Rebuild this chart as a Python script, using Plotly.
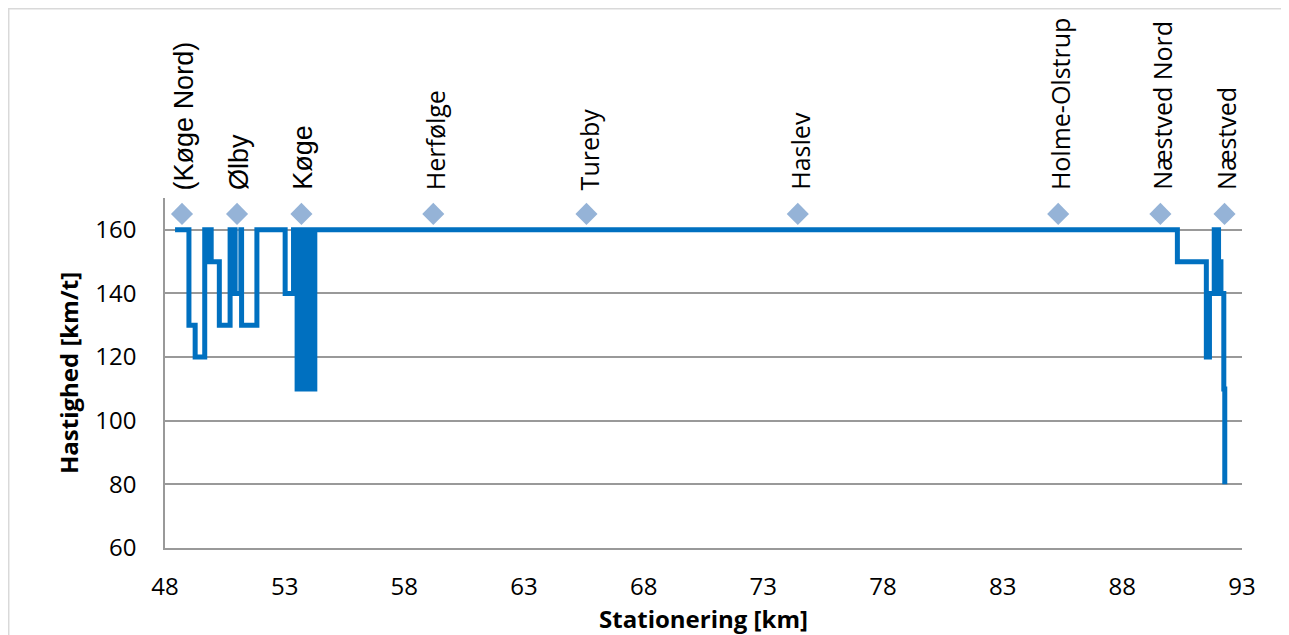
import plotly.graph_objects as go

# Speed profile (step function: speed holds from km[i] to km[i+1])
km = [48.42, 49.00, 49.26, 49.66, 49.78, 49.80, 49.93, 50.27, 50.72, 50.84, 50.86, 50.93,
      51.17, 51.20, 51.84, 53.02, 53.37, 53.52, 53.60, 53.66, 53.74, 53.80, 53.88, 53.94,
      54.02, 54.08, 54.16, 54.20, 54.26, 90.30, 91.51, 91.64, 91.84, 91.92, 91.96, 92.02,
      92.12, 92.24, 92.28]
speed = [160, 130, 120, 160, 150, 160, 150, 130, 160, 140, 160, 140,
         160, 130, 160, 140, 160, 110, 160, 110, 160, 110, 160, 110,
         160, 110, 160, 110, 160, 150, 120, 140, 160, 140, 160, 150,
         140, 110, 80]

stations = ["(Køge Nord)", "Ølby", "Køge", "Herfølge", "Tureby", "Haslev",
            "Holme-Olstrup", "Næstved Nord", "Næstved"]
station_km = [48.71, 51.01, 53.70, 59.21, 65.61, 74.44, 85.32, 89.59, 92.27]
station_marker_speed = [165] * len(stations)
station_fonts = ["Liberation Sans", "Liberation Sans", "Liberation Sans", "Open Sans",
                 "Open Sans", "Open Sans", "Open Sans", "Open Sans", "Open Sans"]

x_ticks = [48, 53, 58, 63, 68, 73, 78, 83, 88, 93]
y_ticks = [60, 80, 100, 120, 140, 160]

fig = go.Figure()
fig.add_trace(go.Scatter(
    x=km, y=speed, mode="lines", line=dict(color="#0070C0", width=5, shape="hv"),
    hoverinfo="skip", showlegend=False))
fig.add_trace(go.Scatter(
    x=station_km, y=station_marker_speed, mode="markers",
    marker=dict(symbol="diamond", size=17, color="#95B3D7"),
    hoverinfo="skip", showlegend=False, cliponaxis=False))

for name, xk, yv, fnt in zip(stations, station_km, station_marker_speed, station_fonts):
    fig.add_annotation(x=xk, y=yv, text=name, textangle=-90, showarrow=False,
                       xanchor="center", yanchor="bottom", yshift=22, xshift=2,
                       font=dict(family=fnt, size=25 if fnt == "Open Sans" else 27, color="black"))

# outer chart border (top and left visible)
fig.add_shape(type="rect", xref="paper", yref="paper", x0=-0.1451, x1=1.3, y0=-0.5, y1=1.5407,
              line=dict(color="#D9D9D9", width=1.5), fillcolor="rgba(0,0,0,0)", layer="below")

fig.update_layout(
    width=1281, height=627,
    margin=dict(l=157, r=47, t=190, b=87),
    paper_bgcolor="white", plot_bgcolor="white",
    font=dict(family="Open Sans", size=24, color="black"),
    xaxis=dict(range=[48, 93], tickmode="array", tickvals=x_ticks,
               ticktext=[str(v) for v in x_ticks], showgrid=False, zeroline=False,
               showline=True, linecolor="#999999", linewidth=1.5, ticks="",
               ticklabelstandoff=16,
               title=dict(text="<b>Stationering [km]</b>", standoff=4,
                          font=dict(family="Open Sans", size=24))),
    yaxis=dict(range=[60, 170], tickmode="array", tickvals=y_ticks,
               ticktext=[str(v) for v in y_ticks], showgrid=True, gridcolor="#999999",
               gridwidth=1.5, zeroline=False, showline=True, linecolor="#999999",
               linewidth=1.5, ticks="", ticklabelstandoff=22,
               title=dict(text="<b>Hastighed [km/t]</b>", standoff=10,
                          font=dict(family="Open Sans", size=24))),
)

fig.write_html("out.html")
